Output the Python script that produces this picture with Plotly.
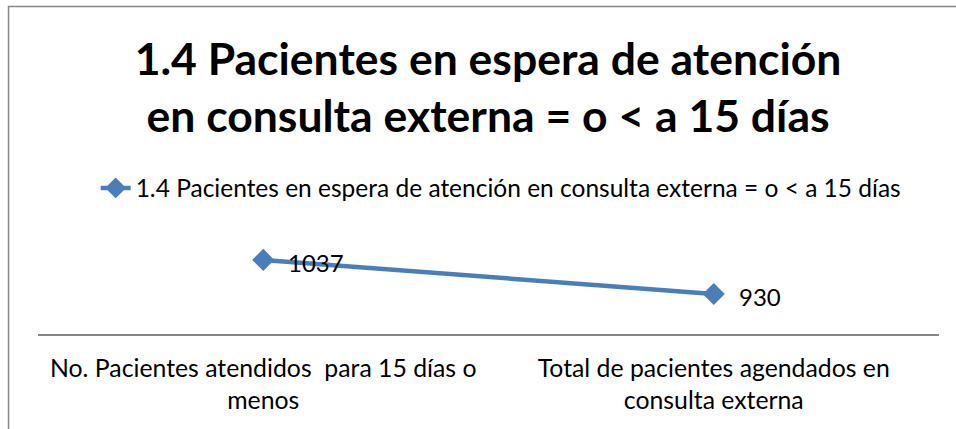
import plotly.graph_objects as go

categories = ["No. Pacientes atendidos  para 15 días o<br>menos",
              "Total de pacientes agendados en<br>consulta externa"]
values = [1037, 930]
series_name = "1.4 Pacientes en espera de atención en consulta externa = o < a 15 días"
title_text = "1.4 Pacientes en espera de atención<br>en consulta externa = o < a 15 días"

blue = "#4a7ebb"
font = "Lato"

fig = go.Figure()
fig.add_trace(go.Scatter(
    x=categories, y=values,
    mode="lines+markers",
    name=series_name,
    line=dict(color=blue, width=4.5),
    marker=dict(symbol="diamond", size=17, color=blue),
))

# data labels to the right of each point
for c, v in zip(categories, values):
    fig.add_annotation(x=c, y=v, text=str(v), showarrow=False,
                       xanchor="left", yanchor="middle", xshift=23, yshift=-3,
                       font=dict(family=font, size=24, color="#000000"))

# outer chart border (cropped on right and bottom)
fig.add_shape(type="rect", xref="paper", yref="paper",
              x0=-0.0327, x1=1.2, y0=-1.5, y1=3.149,
              line=dict(color="#868686", width=1.5))

fig.update_layout(
    width=956, height=429,
    margin=dict(l=38, r=17, t=230, b=95, autoexpand=False),
    paper_bgcolor="white", plot_bgcolor="white",
    title=dict(text=title_text, x=0.5105, xanchor="center", y=0.826, yanchor="middle",
               font=dict(family=font, size=44.5, color="#000000", weight="bold")),
    showlegend=True,
    legend=dict(x=0.064, y=1.404, xref="paper", yref="paper",
                xanchor="left", yanchor="middle", bgcolor="rgba(0,0,0,0)",
                font=dict(family=font, size=24.5, color="#000000")),
    xaxis=dict(type="category", showline=True, linecolor="#868686", linewidth=2,
               showgrid=False, ticks="", ticklabelstandoff=11,
               tickfont=dict(family=font, size=24.8, color="#000000"),
               range=[-0.5, 1.5]),
    yaxis=dict(visible=False, range=[804, 1131]),
)

# drop the page's default body margin so the figure sits at the window corner
fig.write_html("out.html", config={"displayModeBar": False},
               post_script="document.body.style.margin='0';")
